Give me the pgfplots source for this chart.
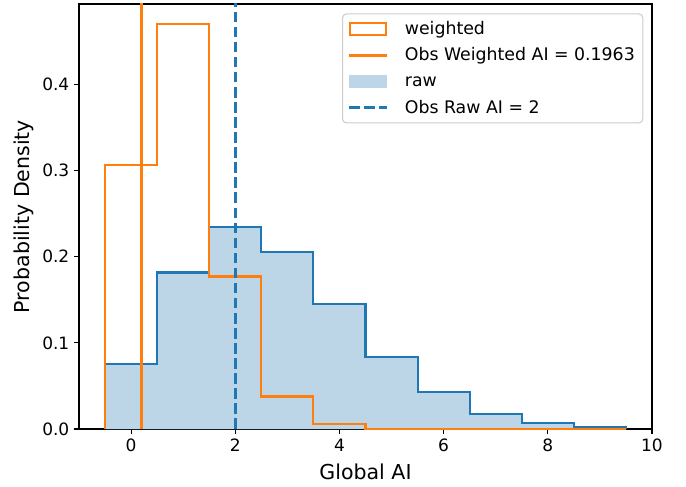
\documentclass[border=0pt]{standalone}
\usepackage{fontspec}
\setmainfont{DejaVu Sans}
\usepackage{pgfplots}
\pgfplotsset{compat=1.18}
\definecolor{C0}{HTML}{1F77B4}
\definecolor{C1}{HTML}{FF7F0E}
\definecolor{C0fill}{HTML}{BCD6E8}
\pgfplotsset{
  rectlegend/.style={legend image code/.code={\draw[##1, sharp corners] (0pt,-4.6pt) rectangle (27pt,4.6pt); \path (38pt,0pt);}},
  linelegend/.style={legend image code/.code={\draw[##1, sharp corners] (-0.6pt,0pt) -- (27.6pt,0pt); \path (38pt,0pt);}},
  filllegend/.style={legend image code/.code={\fill[##1, sharp corners] (-0.6pt,-4.6pt) rectangle (27.6pt,4.6pt); \path (38pt,0pt);}},
}
\begin{document}
\begin{tikzpicture}
\begin{axis}[
  scale only axis, width=429.75pt, height=318.75pt,
  xmin=-1, xmax=10, ymin=0, ymax=0.4935,
  xtick={0,2,4,6,8,10}, ytick={0,0.1,0.2,0.3,0.4},
  yticklabel style={/pgf/number format/fixed, /pgf/number format/fixed zerofill, /pgf/number format/precision=1},
  /pgf/number format/assume math mode=true,
  tick align=outside, xtick pos=left, ytick pos=left,
  major tick length=3.75pt,
  tick style={black, line width=0.86pt},
  axis line style={line width=0.86pt},
  tick label style={font=\fontsize{12.75pt}{15pt}\selectfont},
  xlabel={Global AI}, ylabel={Probability Density},
  every axis x label/.style={at={(rel axis cs:0.5,0)}, yshift=-37.5pt, anchor=base, font=\fontsize{15.4pt}{18pt}\selectfont},
  every axis y label/.style={at={(rel axis cs:0,0.5)}, xshift=-36.75pt, rotate=90, anchor=base, font=\fontsize{15.4pt}{18pt}\selectfont},
  legend style={at={(rel axis cs:1,1)}, anchor=north east, xshift=-6.5pt, yshift=-7pt,
    draw=black!20, line width=0.8pt, rounded corners=3pt,
    font=\fontsize{13pt}{15pt}\selectfont,
    cells={anchor=west, text height=9.6pt, text depth=2.6pt},
    row sep=4.6pt, inner xsep=4pt, inner ysep=3.8pt},
  legend cell align=left,
]
\addlegendimage{C1, line width=1.6pt, rectlegend}
\addlegendentry{weighted}
\addlegendimage{C1, line width=2.15pt, linelegend}
\addlegendentry{Obs Weighted AI = 0.1963}
\addlegendimage{fill=C0fill, draw=none, filllegend}
\addlegendentry{raw}
\addlegendimage{C0, line width=2.15pt, dash pattern=on 7.9pt off 3.4pt, linelegend}
\addlegendentry{Obs Raw AI = 2}

% raw histogram (filled)
\addplot[fill=C0fill, draw=none, const plot, forget plot] coordinates {
 (-0.5,0) (-0.5,0.0754) (0.5,0.1817) (1.5,0.2350) (2.5,0.2060) (3.5,0.1454)
 (4.5,0.0835) (5.5,0.0425) (6.5,0.0178) (7.5,0.0070) (8.5,0.0020) (9.5,0.0020) (9.5,0)
} \closedcycle;
% raw histogram outline
\addplot[C0, line width=1.6pt, const plot, forget plot] coordinates {
 (-0.5,0) (-0.5,0.0754) (0.5,0.1817) (1.5,0.2350) (2.5,0.2060) (3.5,0.1454)
 (4.5,0.0835) (5.5,0.0425) (6.5,0.0178) (7.5,0.0070) (8.5,0.0020) (9.5,0.0020) (9.5,0)
};
% weighted histogram
\addplot[C1, line width=1.6pt, const plot, forget plot] coordinates {
 (-0.5,0) (-0.5,0.3066) (0.5,0.4700) (1.5,0.1770) (2.5,0.0378) (3.5,0.0062)
 (4.5,0.0005) (5.5,0.0001) (6.5,0.0) (7.5,0.0) (8.5,0.0) (9.5,0.0)
};
% observed weighted AI
\addplot[C1, line width=2.15pt, forget plot] coordinates {(0.1963,0) (0.1963,0.5)};
% observed raw AI
\addplot[C0, line width=2.15pt, dash pattern=on 7.9pt off 3.4pt, forget plot] coordinates {(2,0) (2,0.5)};
\coordinate (ll) at (rel axis cs:0,0);
\coordinate (ur) at (rel axis cs:1,1);
\end{axis}
\pgfresetboundingbox
\path ([shift={(-59.25pt,-42.75pt)}]ll) rectangle ([shift={(25.5pt,3pt)}]ur);
\end{tikzpicture}
\end{document}
